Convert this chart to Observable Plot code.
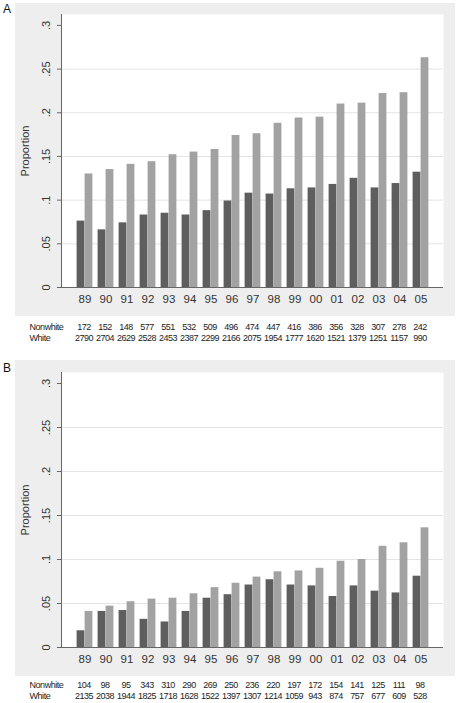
<!DOCTYPE html>
<html>
<head>
<meta charset="utf-8">
<script src="https://cdn.jsdelivr.net/npm/d3@7"></script>
<script src="https://cdn.jsdelivr.net/npm/@observablehq/plot@0.6"></script>
<style>
  html, body { margin: 0; padding: 0; background: #ffffff; }
  body { width: 456px; height: 703px; position: relative; overflow: hidden; font-family: "Liberation Sans", Arial, sans-serif; }
  .lbl { position: absolute; font-size: 12px; color: #111; line-height: 1; }
  .box { position: absolute; left: 15px; }
</style>
</head>
<body>
<div class="lbl" style="left:3px; top:3px;">A</div>
<div class="box" id="chartA" style="top:3px;"></div>
<div class="box" id="tableA" style="top:321px;"></div>
<div class="lbl" style="left:3px; top:362px;">B</div>
<div class="box" id="chartB" style="top:360px;"></div>
<div class="box" id="tableB" style="top:679px;"></div>
<script>
// ---- data ----
const years = ["89","90","91","92","93","94","95","96","97","98","99","00","01","02","03","04","05"];
const yTicks = [0, 0.05, 0.1, 0.15, 0.2, 0.25, 0.3];
const gridTicks = [0.05, 0.1, 0.15, 0.2, 0.25];
const rows = ["Nonwhite", "White"];

// Panel A proportions
const nonwhiteA = [0.076, 0.066, 0.074, 0.083, 0.085, 0.083, 0.088, 0.099, 0.108, 0.107, 0.113, 0.114, 0.118, 0.125, 0.114, 0.119, 0.132];
const whiteA    = [0.130, 0.135, 0.141, 0.144, 0.152, 0.155, 0.158, 0.174, 0.176, 0.188, 0.194, 0.195, 0.210, 0.211, 0.222, 0.223, 0.263];
// Panel A counts
const countNonwhiteA = [172, 152, 148, 577, 551, 532, 509, 496, 474, 447, 416, 386, 356, 328, 307, 278, 242];
const countWhiteA    = [2790, 2704, 2629, 2528, 2453, 2387, 2299, 2166, 2075, 1954, 1777, 1620, 1521, 1379, 1251, 1157, 990];

// Panel B proportions
const nonwhiteB = [0.019, 0.041, 0.042, 0.032, 0.029, 0.041, 0.056, 0.060, 0.071, 0.077, 0.071, 0.070, 0.058, 0.070, 0.064, 0.062, 0.081];
const whiteB    = [0.041, 0.047, 0.052, 0.055, 0.056, 0.061, 0.068, 0.073, 0.080, 0.086, 0.087, 0.090, 0.098, 0.100, 0.115, 0.119, 0.136];
// Panel B counts
const countNonwhiteB = [104, 98, 95, 343, 310, 290, 269, 250, 236, 220, 197, 172, 154, 141, 125, 111, 98];
const countWhiteB    = [2135, 2038, 1944, 1825, 1718, 1628, 1522, 1397, 1307, 1214, 1059, 943, 874, 757, 677, 609, 528];

// ---- drawing ----
const xScale = {type: "band", domain: years, paddingInner: 0, paddingOuter: 0.515, align: 0.5};
const fmt = d => d === 0 ? "0" : String(d).replace(/^0/, "");

function chart(nw, wh, height, marginTop) {
  const data = years.map((y, i) => ({year: y, nonwhite: nw[i], white: wh[i]}));
  return Plot.plot({
    width: 440,
    height,
    marginLeft: 46,
    marginRight: 12,
    marginTop,
    marginBottom: 29,
    style: {background: "#eeeeee", fontFamily: "Liberation Sans, Arial, sans-serif", fontSize: "11px", color: "#333"},
    x: {...xScale, axis: null},
    y: {domain: [0, 0.3125], axis: null},
    marks: [
      Plot.frame({fill: "white", stroke: null}),
      Plot.gridY(gridTicks, {stroke: "#e4e4e4", strokeOpacity: 1}),
      Plot.barY(data, {x: "year", y: "nonwhite", fill: "#5e5e5e", insetLeft: 2.6, insetRight: 10.6}),
      Plot.barY(data, {x: "year", y: "white", fill: "#a2a2a2", insetLeft: 10.6, insetRight: 2.6}),
      Plot.frame({anchor: "left", stroke: "#666"}),
      Plot.ruleY([0], {stroke: "#666"}),
      Plot.axisX({tickSize: 0, tickPadding: 7, label: null, fontSize: 11.5}),
      Plot.axisY({ticks: yTicks, tickFormat: fmt, tickRotate: -90, tickSize: 4, tickPadding: 8,
                  label: "Proportion", labelAnchor: "center", labelArrow: "none", labelOffset: 40, stroke: "#666"})
    ]
  });
}

function table(cnw, cw) {
  const data = [];
  years.forEach((y, i) => {
    data.push({year: y, row: "Nonwhite", n: cnw[i]});
    data.push({year: y, row: "White", n: cw[i]});
  });
  return Plot.plot({
    width: 440,
    height: 24,
    marginLeft: 46,
    marginRight: 12,
    marginTop: 0,
    marginBottom: 0,
    style: {background: "transparent", fontFamily: "'Liberation Sans', Arial, sans-serif", fontSize: "9px", letterSpacing: "-0.45px", color: "#222"},
    x: {...xScale, axis: null},
    y: {type: "point", domain: rows, range: [6, 17], padding: 0, axis: null},
    marks: [
      Plot.text(data, {x: "year", y: "row", text: d => String(d.n), fill: "#222", dx: -1}),
      Plot.text(rows, {y: d => d, text: d => d, frameAnchor: "left", textAnchor: "start", dx: -32, fill: "#222"})
    ]
  });
}

document.getElementById("chartA").append(chart(nonwhiteA, whiteA, 313, 11));
document.getElementById("tableA").append(table(countNonwhiteA, countWhiteA));
document.getElementById("chartB").append(chart(nonwhiteB, whiteB, 316, 12));
document.getElementById("tableB").append(table(countNonwhiteB, countWhiteB));
</script>
</body>
</html>
